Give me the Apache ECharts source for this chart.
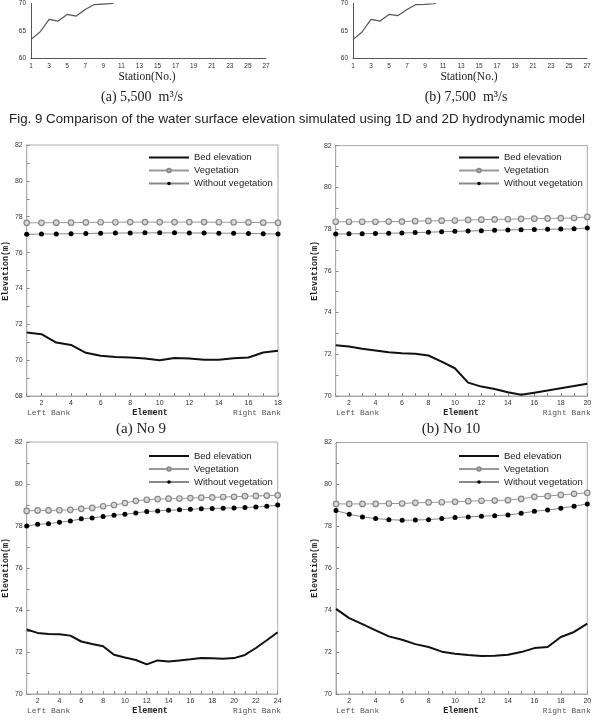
<!DOCTYPE html>
<html><head><meta charset="utf-8">
<script src="https://cdn.jsdelivr.net/npm/echarts@6/dist/echarts.min.js"></script>
<style>html,body{margin:0;padding:0;background:#fff}#c{width:598px;height:720px}</style>
</head><body><div id="c"></div>
<script>
// ---- data ----
const stations = ['1','2','3','4','5','6','7','8','9','10','11','12','13','14','15','16','17','18','19','20','21','22','23','24','25','26','27'];
const wse5500 = [63.45, 64.8, 67.1, 66.8, 68.0, 67.7, 68.9, 69.8, 69.9, 70.0, 71.0];
const wse7500 = [63.4, 64.8, 67.1, 66.8, 68.0, 67.8, 68.9, 69.8, 69.85, 69.95, 71.0];

const elem18 = ['1','2','3','4','5','6','7','8','9','10','11','12','13','14','15','16','17','18'];
const elem20 = ['1','2','3','4','5','6','7','8','9','10','11','12','13','14','15','16','17','18','19','20'];
const elem24 = ['1','2','3','4','5','6','7','8','9','10','11','12','13','14','15','16','17','18','19','20','21','22','23','24'];

const no9Bed   = [71.54,71.45,70.98,70.85,70.41,70.24,70.18,70.15,70.09,70.0,70.12,70.09,70.02,70.02,70.11,70.15,70.43,70.53];
const no9Veg   = [77.66,77.66,77.67,77.67,77.68,77.69,77.69,77.70,77.70,77.70,77.70,77.70,77.70,77.69,77.69,77.68,77.67,77.66];
const no9NoVeg = [77.02,77.03,77.04,77.05,77.06,77.08,77.09,77.09,77.10,77.10,77.10,77.09,77.09,77.08,77.08,77.07,77.05,77.03];

const no10Bed   = [72.43,72.37,72.26,72.18,72.10,72.05,72.02,71.94,71.65,71.33,70.64,70.45,70.34,70.18,70.06,70.16,70.26,70.37,70.48,70.59];
const no10Veg   = [78.35,78.35,78.35,78.35,78.36,78.36,78.38,78.39,78.40,78.41,78.44,78.45,78.46,78.47,78.49,78.50,78.51,78.52,78.53,78.58];
const no10NoVeg = [77.76,77.77,77.78,77.79,77.80,77.81,77.83,77.85,77.87,77.89,77.91,77.92,77.94,77.96,77.97,77.98,77.99,78.00,78.01,78.05];

const panelCBed   = [73.07,72.91,72.86,72.85,72.78,72.50,72.38,72.27,71.87,71.74,71.62,71.41,71.60,71.55,71.60,71.65,71.71,71.70,71.68,71.71,71.86,72.19,72.56,72.94];
const panelCVeg   = [78.72,78.74,78.74,78.75,78.77,78.82,78.86,78.94,79.00,79.09,79.20,79.25,79.28,79.30,79.31,79.33,79.35,79.36,79.38,79.39,79.42,79.43,79.45,79.46];
const panelCNoVeg = [78.00,78.08,78.11,78.18,78.24,78.34,78.38,78.45,78.51,78.56,78.62,78.69,78.72,78.75,78.77,78.80,78.82,78.83,78.85,78.86,78.88,78.90,78.94,79.00];

const panelDBed   = [74.06,73.62,73.33,73.04,72.75,72.59,72.38,72.24,72.02,71.92,71.86,71.81,71.82,71.87,72.00,72.19,72.24,72.72,72.96,73.36];
const panelDVeg   = [79.07,79.07,79.07,79.07,79.09,79.09,79.12,79.14,79.15,79.17,79.20,79.22,79.23,79.25,79.31,79.41,79.44,79.50,79.55,79.60];
const panelDNoVeg = [78.75,78.58,78.45,78.37,78.32,78.29,78.30,78.32,78.37,78.42,78.45,78.48,78.51,78.54,78.62,78.72,78.78,78.86,78.96,79.07];

const legendNames = ['Bed elevation','Vegetation','Without vegetation'];

// ---- chart ----
const chart = echarts.init(document.getElementById('c'), null, {renderer:'canvas'});
const SANS = 'Liberation Sans, Arial, sans-serif';
const SERIF = 'Liberation Serif, Times New Roman, serif';
const MONO = 'Liberation Mono, Courier New, monospace';

const grids = [
  {left:31, top:0.3, width:235, height:58},
  {left:353, top:0.3, width:234, height:58},
  {left:26.7, top:145, width:251.3, height:251},
  {left:335.7, top:145.6, width:251.6, height:250.4},
  {left:26.7, top:442, width:251, height:252},
  {left:336, top:442.5, width:251.3, height:251.5}
].map(g => Object.assign({containLabel:false}, g));
grids.slice(2).forEach(g => { g.show = true; g.borderColor = '#aaa'; g.borderWidth = 1; });

const xAxes = [], yAxes = [], series = [];

[wse5500, wse7500].forEach((d, i) => {
  xAxes.push({gridIndex:i, type:'category', data:stations, boundaryGap:false,
    axisLine:{lineStyle:{color:'#555', width:1}}, axisTick:{show:false},
    axisLabel:{interval:1, fontSize:6.5, color:'#333', fontFamily:SANS, margin:4}, splitLine:{show:false}});
  yAxes.push({gridIndex:i, type:'value', min:60, max:70, interval:5,
    axisLine:{show:true, lineStyle:{color:'#555', width:1}}, axisTick:{show:false},
    axisLabel:{fontSize:6.5, color:'#333', fontFamily:SANS, margin:5}, splitLine:{show:false}});
  series.push({type:'line', name:'WSE'+i, xAxisIndex:i, yAxisIndex:i, data:d, symbol:'none', clip:true,
    lineStyle:{color:'#555', width:1.2}, color:'#555', silent:true, animation:false});
});

const panels = [
  {cats:elem18, min:68, bed:no9Bed, veg:no9Veg, noveg:no9NoVeg},
  {cats:elem20, min:70, bed:no10Bed, veg:no10Veg, noveg:no10NoVeg},
  {cats:elem24, min:70, bed:panelCBed, veg:panelCVeg, noveg:panelCNoVeg},
  {cats:elem20, min:70, bed:panelDBed, veg:panelDVeg, noveg:panelDNoVeg}
];
panels.forEach((p, k) => {
  const gi = k + 2;
  xAxes.push({gridIndex:gi, type:'category', data:p.cats, boundaryGap:false,
    axisLine:{lineStyle:{color:'#aaa', width:1}},
    axisTick:{show:true, inside:true, length:3, interval:0, lineStyle:{color:'#888'}},
    axisLabel:{interval:(i)=> i % 2 === 1, fontSize:7, color:'#333', fontFamily:SANS, margin:4},
    splitLine:{show:false}});
  yAxes.push({gridIndex:gi, type:'value', min:p.min, max:82, interval:2,
    axisLine:{show:true, lineStyle:{color:'#aaa', width:1}},
    axisTick:{show:true, inside:true, length:3, lineStyle:{color:'#888'}},
    minorTick:{show:true, splitNumber:2, length:3, lineStyle:{color:'#888'}},
    axisLabel:{fontSize:7, color:'#333', fontFamily:SANS, margin:4}, splitLine:{show:false}});
  series.push({type:'line', name:'Bed elevation', xAxisIndex:gi, yAxisIndex:gi, data:p.bed,
    symbol:'none', color:'#111', lineStyle:{color:'#111', width:2}, animation:false});
  series.push({type:'line', name:'Vegetation', xAxisIndex:gi, yAxisIndex:gi, data:p.veg,
    symbol:'circle', symbolSize:5.5, color:'#999',
    itemStyle:{color:'#d8d8d8', borderColor:'#888', borderWidth:1.2},
    lineStyle:{color:'#999', width:1}, animation:false});
  series.push({type:'line', name:'Without vegetation', xAxisIndex:gi, yAxisIndex:gi, data:p.noveg,
    symbol:'circle', symbolSize:5, color:'#888',
    itemStyle:{color:'#000', borderColor:'#000', borderWidth:0},
    lineStyle:{color:'#888', width:1}, animation:false});
});

const legends = [[148,151],[458,151],[148,449.5],[458,449.5]].map(([l,t]) => ({
  left:l, top:t, orient:'vertical', itemWidth:40, itemHeight:4.5, itemGap:0, padding:0,
  data:[
    {name:legendNames[0], itemStyle:{opacity:0, borderWidth:0}},
    {name:legendNames[1]},
    {name:legendNames[2]}
  ],
  selectedMode:false,
  textStyle:{fontSize:9.5, lineHeight:13, color:'#222', fontFamily:SANS}
}));

function txt(x, y, text, font, opts) {
  return Object.assign({type:'text', x:x, y:y, silent:true,
    style:{text:text, font:font, fill:'#222', align:'center', verticalAlign:'middle'}}, opts || {});
}
const graphics = [
  txt(297, 119, 'Fig. 9 Comparison of the water surface elevation simulated using 1D and 2D hydrodynamic model', '13.3px ' + SANS),
  txt(147, 77, 'Station(No.)', '11.5px ' + SERIF),
  txt(469, 77, 'Station(No.)', '11.5px ' + SERIF),
  txt(142, 97, '(a) 5,500  m³/s', '14px ' + SERIF),
  txt(466, 97, '(b) 7,500  m³/s', '14px ' + SERIF),
  txt(141, 429, '(a) No 9', '15px ' + SERIF),
  txt(451, 429, '(b) No 10', '15px ' + SERIF)
];
const bankRows = [
  {y:412.7, l:27, c:150, r:281},
  {y:412.7, l:336, c:461, r:590.7},
  {y:711, l:27, c:150, r:281},
  {y:711, l:336, c:461, r:590.7}
];
bankRows.forEach(b => {
  const a = txt(b.l, b.y, 'Left Bank', '8px ' + MONO); a.style.align = 'left'; a.style.fill = '#555';
  const e = txt(b.c, b.y, 'Element', 'bold 8.5px ' + MONO);
  const r = txt(b.r, b.y, 'Right Bank', '8px ' + MONO); r.style.align = 'right'; r.style.fill = '#555';
  graphics.push(a, e, r);
});
[[6,271],[315,271],[6,568],[315,568]].forEach(([x,y]) => {
  graphics.push(txt(x, y, 'Elevation(m)', 'bold 8.3px ' + MONO, {rotation:Math.PI/2}));
});

chart.setOption({
  animation:false,
  backgroundColor:'#fff',
  grid:grids, xAxis:xAxes, yAxis:yAxes, series:series, legend:legends,
  graphic:{elements:graphics}
});
</script></body></html>
